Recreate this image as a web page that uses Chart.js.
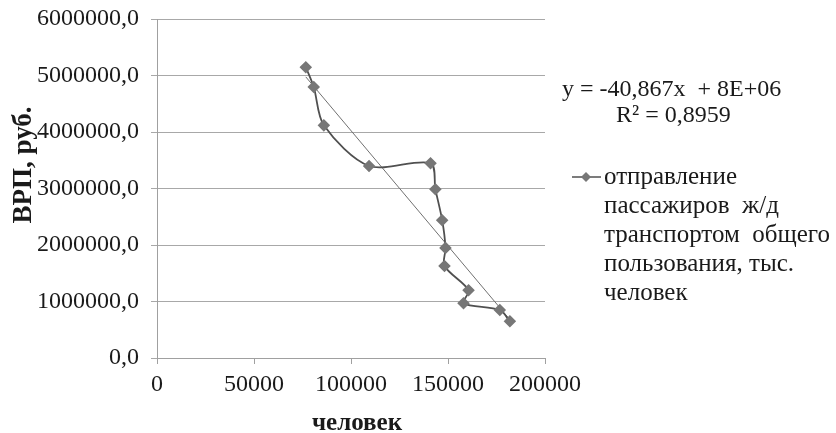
<!DOCTYPE html>
<html>
<head>
<meta charset="utf-8">
<script src="https://cdn.jsdelivr.net/npm/chart.js@4"></script>
<style>
  html, body { margin: 0; padding: 0; background: #fff; }
  #wrap { width: 836px; height: 433px; }
</style>
</head>
<body>
<div id="wrap"><canvas id="mycanvas" width="836" height="433"></canvas></div>
<script>
// отправление пассажиров (тыс. человек) vs ВРП
var passengers = [76700, 80800, 86000, 109300, 141000, 143500, 147000, 148700, 148200, 160600, 158000, 176700, 181900];
var grp = [5150000, 4800000, 4120000, 3400000, 3450000, 2990000, 2440000, 1950000, 1630000, 1200000, 970000, 850000, 650000];

// linear trend
var trendSlope = -40.867;
var trendIntercept = 8113000;
var equationText = 'y = -40,867x  + 8E+06';
var r2Text = 'R² = 0,8959';

var legendLines = ['отправление', 'пассажиров  ж/д', 'транспортом  общего', 'пользования, тыс.', 'человек'];
var xTitle = 'человек';
var yTitle = 'ВРП, руб.';

var points = [];
for (var i = 0; i < passengers.length; i++) {
  points.push({x: passengers[i], y: grp[i]});
}
var xMin = Math.min.apply(null, passengers);
var xMax = Math.max.apply(null, passengers);
var trend = [
  {x: xMin, y: trendSlope * xMin + trendIntercept},
  {x: xMax, y: trendSlope * xMax + trendIntercept}
];

var serif = "'Liberation Serif', 'Times New Roman', serif";
var lineColor = '#505050';
var markColor = '#777777';
var textColor = '#1a1a1a';

// titles, equation and legend drawn by hand
var extras = {
  id: 'extras',
  afterDraw: function(chart) {
    var c = chart.ctx;
    c.save();
    c.fillStyle = textColor;

    // y title
    c.save();
    c.translate(24, 165);
    c.rotate(-Math.PI / 2);
    c.font = 'bold 27px ' + serif;
    c.textAlign = 'center';
    c.textBaseline = 'middle';
    c.fillText(yTitle, 0, 0);
    c.restore();

    // x title
    c.font = 'bold 25px ' + serif;
    c.textAlign = 'center';
    c.textBaseline = 'middle';
    c.fillText(xTitle, 357, 424);

    // equation
    c.font = '24px ' + serif;
    c.textAlign = 'left';
    c.fillText(equationText, 562, 90);
    c.fillText(r2Text, 616, 116);

    // legend marker
    c.strokeStyle = lineColor;
    c.lineWidth = 1.5;
    c.beginPath();
    c.moveTo(572, 177);
    c.lineTo(601, 177);
    c.stroke();
    c.fillStyle = markColor;
    c.beginPath();
    c.moveTo(586, 172);
    c.lineTo(591, 177);
    c.lineTo(586, 182);
    c.lineTo(581, 177);
    c.closePath();
    c.fill();

    c.fillStyle = textColor;
    c.font = '25px ' + serif;
    for (var k = 0; k < legendLines.length; k++) {
      c.fillText(legendLines[k], 604, 177 + k * 29);
    }
    c.restore();
  }
};

var ctx = document.getElementById('mycanvas');
var chart = new Chart(ctx, {
  type: 'scatter',
  data: {
    datasets: [
      {
        label: 'отправление пассажиров ж/д транспортом общего пользования, тыс. человек',
        data: points,
        showLine: true,
        tension: 0.3,
        borderColor: lineColor,
        borderWidth: 1.8,
        pointStyle: 'rectRot',
        pointRadius: 5,
        pointBackgroundColor: markColor,
        pointBorderColor: markColor,
        order: 1
      },
      {
        label: 'trend',
        data: trend,
        showLine: true,
        borderColor: '#707070',
        borderWidth: 1,
        pointRadius: 0,
        order: 2
      }
    ]
  },
  options: {
    responsive: false,
    animation: false,
    layout: { padding: { top: 19, right: 291, left: 0, bottom: 0 } },
    plugins: {
      legend: { display: false },
      tooltip: { enabled: false }
    },
    scales: {
      x: {
        type: 'linear',
        min: 0,
        max: 200000,
        ticks: {
          stepSize: 50000,
          color: textColor,
          font: { family: serif, size: 24 },
          padding: 6,
          maxRotation: 0,
          callback: function(v) { return String(v); }
        },
        grid: { drawOnChartArea: false, color: '#a0a0a0', tickLength: 6 },
        border: { color: '#a0a0a0' },
        afterFit: function(s) { s.height = 75; }
      },
      y: {
        min: 0,
        max: 6000000,
        ticks: {
          stepSize: 1000000,
          color: textColor,
          // small lineHeight keeps the top label from pushing the plot down
          font: { family: serif, size: 24, lineHeight: 0.6 },
          padding: 12,
          callback: function(v) { return v + ',0'; }
        },
        grid: { color: '#a8a8a8', tickLength: 6 },
        border: { color: '#a0a0a0' },
        afterFit: function(s) { s.width = 157; }
      }
    }
  },
  plugins: [extras]
});
</script>
</body>
</html>
